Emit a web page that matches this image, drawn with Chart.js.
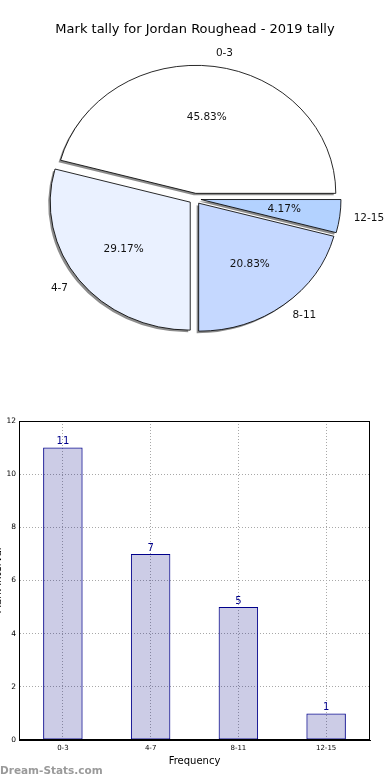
<!DOCTYPE html>
<html><head><meta charset="utf-8">
<script src="https://cdn.jsdelivr.net/npm/chart.js@4"></script>
<style>
html,body{margin:0;padding:0;background:#fff;overflow:hidden;width:390px;height:780px;font-family:"DejaVu Sans",sans-serif;}
#pie{position:absolute;left:0;top:0;}
#bar{position:absolute;left:-8px;top:400px;}
#wm{position:absolute;left:0;top:763px;font:bold 10.5px "DejaVu Sans",sans-serif;color:#9a9a9a;line-height:14px;}
</style></head><body>
<canvas id="pie" width="390" height="400"></canvas>
<canvas id="bar" width="398" height="380"></canvas>
<div id="wm">Dream-Stats.com</div>
<script>
const chartTitle = "Mark tally for Jordan Roughead - 2019 tally";
const categories = ["0-3", "4-7", "8-11", "12-15"];
const counts = [11, 7, 5, 1];
const sliceColors = ["#ffffff", "#eaf1ff", "#c5d8ff", "#b3d2ff"];
const yTicks = [0, 2, 4, 6, 8, 10, 12];
const xTitle = "Frequency";
const yTitle = "Mark Interval";

const total = counts.reduce((a, b) => a + b, 0);
// matplotlib draws counter-clockwise from east; Chart.js draws clockwise, so reverse
const pieLabels = categories.slice().reverse();
const pieData = counts.slice().reverse();
const pieColors = sliceColors.slice().reverse();
const SX = 140 / 128;
const EXPLODE = 5.5;

function withEllipse(ctx, a) {
  ctx.translate(a.x, a.y);
  ctx.scale(SX, 1);
  ctx.translate(-a.x, -a.y);
}
function explodeShift(arc) {
  const mid = (arc.startAngle + arc.endAngle) / 2;
  return [Math.cos(mid) * EXPLODE * SX, Math.sin(mid) * EXPLODE];
}

const ellipsePlugin = {
  id: 'ellipse',
  beforeDatasetDraw(chart, args) {
    const ctx = chart.ctx;
    const meta = args.meta;
    const a = meta.data[0];
    // shadow pass: the library's own arcs, filled grey, shifted
    meta.data.forEach(arc => {
      const [dx, dy] = explodeShift(arc);
      ctx.save();
      ctx.translate(dx - 2, dy + 2);
      withEllipse(ctx, a);
      const orig = arc.options;
      arc.options = Object.assign({}, orig, { backgroundColor: 'rgba(0,0,0,0.45)', borderWidth: 0, borderColor: 'rgba(0,0,0,0)' });
      arc.draw(ctx);
      arc.options = orig;
      ctx.restore();
    });
    meta.data.forEach(arc => {
      const [dx, dy] = explodeShift(arc);
      ctx.save();
      ctx.translate(dx, dy);
      withEllipse(ctx, a);
      arc.draw(ctx);
      ctx.restore();
    });
    return false;
  },
  afterDatasetsDraw(chart) {
    const ctx = chart.ctx;
    const meta = chart.getDatasetMeta(0);
    ctx.save();
    ctx.font = '10.5px "DejaVu Sans", sans-serif';
    ctx.fillStyle = '#111';
    ctx.textBaseline = 'middle';
    meta.data.forEach((arc, i) => {
      const p = arc.getProps(['x', 'y', 'startAngle', 'endAngle', 'outerRadius'], true);
      const mid = (p.startAngle + p.endAngle) / 2;
      const [dx, dy] = explodeShift(arc);
      const cx = p.x + dx;
      const cy = p.y + dy;
      const r = p.outerRadius;
      const pct = (pieData[i] / total * 100).toFixed(2) + '%';
      ctx.textAlign = 'center';
      ctx.fillText(pct, cx + Math.cos(mid) * 0.6 * r * SX, cy + Math.sin(mid) * 0.6 * r);
      const lx = cx + Math.cos(mid) * 1.1 * r * SX;
      const ly = cy + Math.sin(mid) * 1.1 * r;
      ctx.textAlign = Math.cos(mid) >= 0 ? 'left' : 'right';
      ctx.fillText(pieLabels[i], lx, ly);
    });
    ctx.restore();
  }
};

new Chart(document.getElementById('pie'), {
  type: 'pie',
  data: {
    labels: pieLabels,
    datasets: [{
      data: pieData,
      backgroundColor: pieColors,
      borderColor: '#000',
      borderWidth: 0.8,
      offset: 0,
      borderAlign: 'center'
    }]
  },
  options: {
    responsive: false,
    animation: false,
    rotation: 90,
    radius: 128,
    layout: { padding: { bottom: 50 } },
    plugins: {
      legend: { display: false },
      tooltip: { enabled: false },
      title: {
        display: true,
        text: chartTitle,
        color: '#000',
        font: { family: 'DejaVu Sans', size: 13, weight: 'normal' },
        padding: { top: 22, bottom: 10 }
      }
    }
  },
  plugins: [ellipsePlugin]
});

const valueLabels = {
  id: 'valueLabels',
  afterDatasetsDraw(chart) {
    const ctx = chart.ctx;
    const meta = chart.getDatasetMeta(0);
    ctx.save();
    ctx.font = '10px "DejaVu Sans", sans-serif';
    ctx.fillStyle = '#00008b';
    ctx.textAlign = 'center';
    ctx.textBaseline = 'bottom';
    meta.data.forEach((b, i) => {
      ctx.fillText(String(counts[i]), b.x, b.y - 1);
    });
    ctx.restore();
  }
};

new Chart(document.getElementById('bar'), {
  type: 'bar',
  data: {
    labels: categories,
    datasets: [{
      data: counts,
      backgroundColor: 'rgba(0,0,128,0.2)',
      borderColor: '#00008b',
      borderWidth: 1,
      borderSkipped: false,
      barPercentage: 0.45,
      categoryPercentage: 1
    }]
  },
  options: {
    responsive: false,
    animation: false,
    layout: { padding: { top: 21, right: 20, left: 0, bottom: 13 } },
    plugins: { legend: { display: false }, tooltip: { enabled: false } },
    scales: {
      x: {
        offset: true,
        grid: { color: '#a8a8a8', offset: false, drawTicks: false, lineWidth: 1 },
        border: { color: '#000', width: 1, dash: [1, 2] },
        ticks: { color: '#000', font: { family: 'DejaVu Sans', size: 7 }, padding: 4 },
        title: { display: true, text: xTitle, color: '#000', font: { family: 'DejaVu Sans', size: 10 }, padding: { top: 0, bottom: 0 } },
        afterFit(s) { s.height = 27; }
      },
      y: {
        min: 0, max: 12,
        afterBuildTicks(s) { s.ticks = yTicks.map(v => ({ value: v })); },
        grid: { color: '#a8a8a8', drawTicks: false },
        border: { color: '#000', width: 1, dash: [1, 2] },
        ticks: { color: '#000', font: { family: 'DejaVu Sans', size: 7.5 }, padding: 3 },
        title: { display: true, text: yTitle, color: '#000', font: { family: 'DejaVu Sans', size: 10 }, padding: { top: 0, bottom: 0 } },
        afterFit(s) { s.width = 27; }
      }
    }
  },
  plugins: [valueLabels, {
    id: 'frame',
    afterDraw(chart) {
      const { ctx, chartArea: a } = chart;
      ctx.save();
      ctx.strokeStyle = '#000';
      ctx.lineWidth = 1;
      ctx.strokeRect(a.left + 0.5, a.top + 0.5, a.right - a.left - 1, a.bottom - a.top - 1);
      ctx.restore();
    }
  }]
});
</script>
</body></html>
